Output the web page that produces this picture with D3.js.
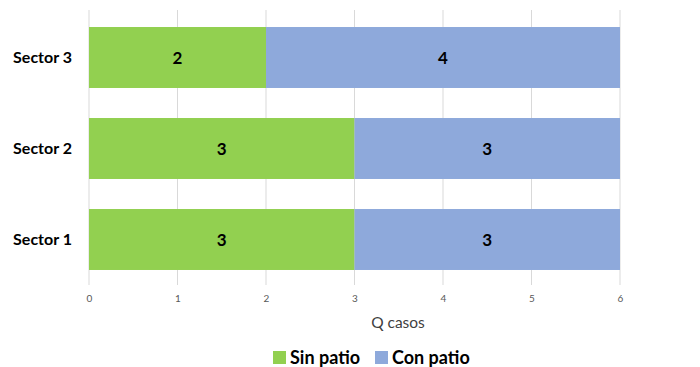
<html>
<head>
<script src="https://d3js.org/d3.v7.min.js"></script>
<style>
  body { margin: 0; background: #fff; }
  text { font-family: Lato, "Open Sans", sans-serif; }
</style>
</head>
<body>
<svg width="700" height="367"></svg>
<script>
// data
var sectors = ["Sector 3", "Sector 2", "Sector 1"];
var sinPatio = [2, 3, 3];
var conPatio = [4, 3, 3];
var series = ["Sin patio", "Con patio"];
var colors = ["#92D050", "#8EA9DB"];
var ticks = [0, 1, 2, 3, 4, 5, 6];

var svg = d3.select("svg");

var x = d3.scaleLinear().domain([0, 6]).range([89, 620]);
var y = d3.scaleBand().domain(sectors).range([12, 285]).paddingInner(0.33).paddingOuter(0.165);

// gridlines
svg.append("g")
  .selectAll("line")
  .data(ticks)
  .enter().append("line")
  .attr("x1", function(d) { return x(d); })
  .attr("x2", function(d) { return x(d); })
  .attr("y1", 10)
  .attr("y2", 285)
  .attr("stroke", "#d9d9d9")
  .attr("stroke-width", 1);

var rows = sectors.map(function(s, i) {
  return { sector: s, vals: [sinPatio[i], conPatio[i]] };
});

rows.forEach(function(r) {
  var start = 0;
  r.vals.forEach(function(v, j) {
    svg.append("rect")
      .attr("x", x(start))
      .attr("y", y(r.sector))
      .attr("width", x(start + v) - x(start))
      .attr("height", y.bandwidth())
      .attr("fill", colors[j]);
    svg.append("text")
      .attr("x", (x(start) + x(start + v)) / 2)
      .attr("y", y(r.sector) + y.bandwidth() / 2)
      .attr("dy", "0.36em")
      .attr("text-anchor", "middle")
      .attr("font-size", 17)
      .attr("font-weight", "bold")
      .attr("fill", "#000")
      .text(v);
    start += v;
  });
});

// category axis
var yAxis = svg.append("g")
  .attr("transform", "translate(89,0)")
  .call(d3.axisLeft(y).tickSize(0).tickPadding(17));
yAxis.select(".domain").remove();
yAxis.selectAll("text")
  .attr("font-size", 16)
  .attr("font-weight", "bold")
  .attr("fill", "#000")
  .style("font-family", "Lato, sans-serif");

// value axis
var xAxis = svg.append("g")
  .attr("transform", "translate(0,285)")
  .call(d3.axisBottom(x).tickValues(ticks).tickFormat(d3.format("d")).tickSize(0).tickPadding(10));
xAxis.select(".domain").remove();
xAxis.selectAll("text")
  .attr("font-size", 10)
  .attr("fill", "#595959")
  .style("font-family", "Lato, sans-serif");

svg.append("text")
  .attr("x", 398)
  .attr("y", 328)
  .attr("text-anchor", "middle")
  .attr("font-size", 15.5)
  .attr("fill", "#404040")
  .text("Q casos");

// legend
var legendX = [273, 375];
series.forEach(function(s, i) {
  svg.append("rect")
    .attr("x", legendX[i])
    .attr("y", 351)
    .attr("width", 13)
    .attr("height", 13)
    .attr("fill", colors[i]);
  svg.append("text")
    .attr("x", legendX[i] + 17)
    .attr("y", 364)
    .attr("font-size", 18)
    .attr("font-weight", "bold")
    .attr("fill", "#000")
    .text(s);
});
</script>
</body>
</html>
